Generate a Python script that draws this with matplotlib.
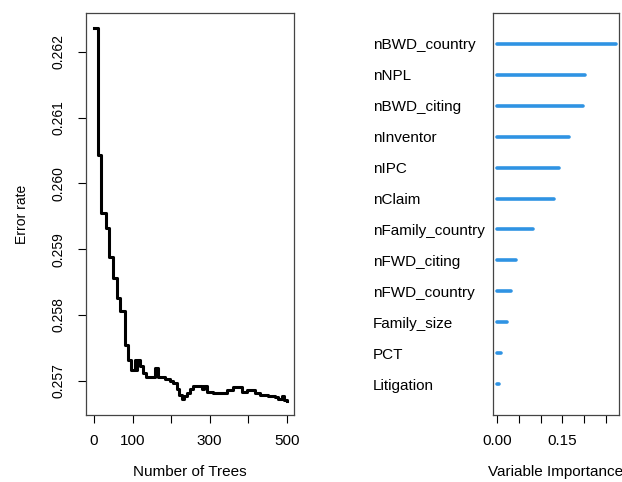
import matplotlib
matplotlib.use("Agg")
import matplotlib.pyplot as plt

plt.rcParams['font.family'] = ['Liberation Sans', 'DejaVu Sans']

# OOB error rate (step changes)
trees = [1, 9, 18, 30, 38, 48, 60, 68, 81, 88, 96, 105, 109, 112, 119, 126,
         135, 158, 167, 184, 197, 206, 215, 221, 228, 234, 241, 249, 258,
         279, 284, 292, 309, 327, 344, 361, 383, 396, 418, 431, 452, 470,
         478, 487, 492, 500]
error = [0.26236, 0.26043, 0.25955, 0.25932, 0.25888, 0.25856, 0.25826,
         0.25806, 0.25754, 0.25732, 0.25716, 0.25732, 0.25716, 0.25732,
         0.25722, 0.25712, 0.25706, 0.25719, 0.25706, 0.25702, 0.25700,
         0.25696, 0.25688, 0.25678, 0.25673, 0.25677, 0.25681, 0.25688,
         0.25692, 0.25688, 0.25692, 0.25683, 0.25682, 0.25681, 0.25686,
         0.25691, 0.25683, 0.25686, 0.25682, 0.25678, 0.25677, 0.25676,
         0.25673, 0.25677, 0.25671, 0.25669]

# variable importance
variables = ['nBWD_country', 'nNPL', 'nBWD_citing', 'nInventor', 'nIPC',
             'nClaim', 'nFamily_country', 'nFWD_citing', 'nFWD_country',
             'Family_size', 'PCT', 'Litigation']
importance = [0.2735, 0.2014, 0.1968, 0.1645, 0.1429, 0.1306, 0.0830,
              0.0424, 0.0309, 0.0224, 0.0085, 0.0046]

fig = plt.figure(figsize=(6.22, 4.82), dpi=100)

# left: error rate vs number of trees
ax1 = fig.add_axes([0.1383, 0.139, 0.3344, 0.834])
ax1.plot(trees, error, drawstyle='steps-post', color='black', lw=2.2)
ax1.set_xlim(-21, 519)
ax1.set_ylim(0.25648, 0.26259)
ax1.set_xticks([0, 100, 200, 300, 400, 500])
ax1.set_xticklabels(['0', '100', '', '300', '', '500'])
ax1.set_yticks([0.257, 0.258, 0.259, 0.260, 0.261, 0.262])
ax1.set_yticklabels(['0.257', '0.258', '0.259', '0.260', '0.261', '0.262'],
                    rotation=90, va='center')
ax1.tick_params(axis='x', length=6, width=0.8, pad=8, labelsize=11)
ax1.tick_params(axis='y', length=6, width=0.8, pad=9, labelsize=10)
ax1.set_xlabel('Number of Trees', fontsize=11, labelpad=12)
ax1.set_ylabel('Error rate', fontsize=10, labelpad=16)

# right: variable importance
ax2 = fig.add_axes([0.792, 0.139, 0.2036, 0.834])
ypos = list(range(len(variables), 0, -1))
ax2.hlines(ypos, 0, importance, color='#2f93e3', lw=2.6, capstyle='round')
ax2.set_xlim(-0.0106, 0.281)
ax2.set_ylim(0, 13)
ax2.set_xticks([0.0, 0.05, 0.10, 0.15, 0.20, 0.25])
ax2.set_xticklabels(['0.00', '', '', '0.15', '', ''])
ax2.set_yticks(ypos)
ax2.set_yticklabels(variables, ha='left')
ax2.tick_params(axis='x', length=6, width=0.8, pad=8, labelsize=11)
ax2.tick_params(axis='y', length=0, pad=86, labelsize=11)
ax2.set_xlabel('Variable Importance', fontsize=11, labelpad=12)

for ax in (ax1, ax2):
    for s in ax.spines.values():
        s.set_linewidth(0.9)
        s.set_color('#444444')

fig.savefig('out.png', dpi=100)
